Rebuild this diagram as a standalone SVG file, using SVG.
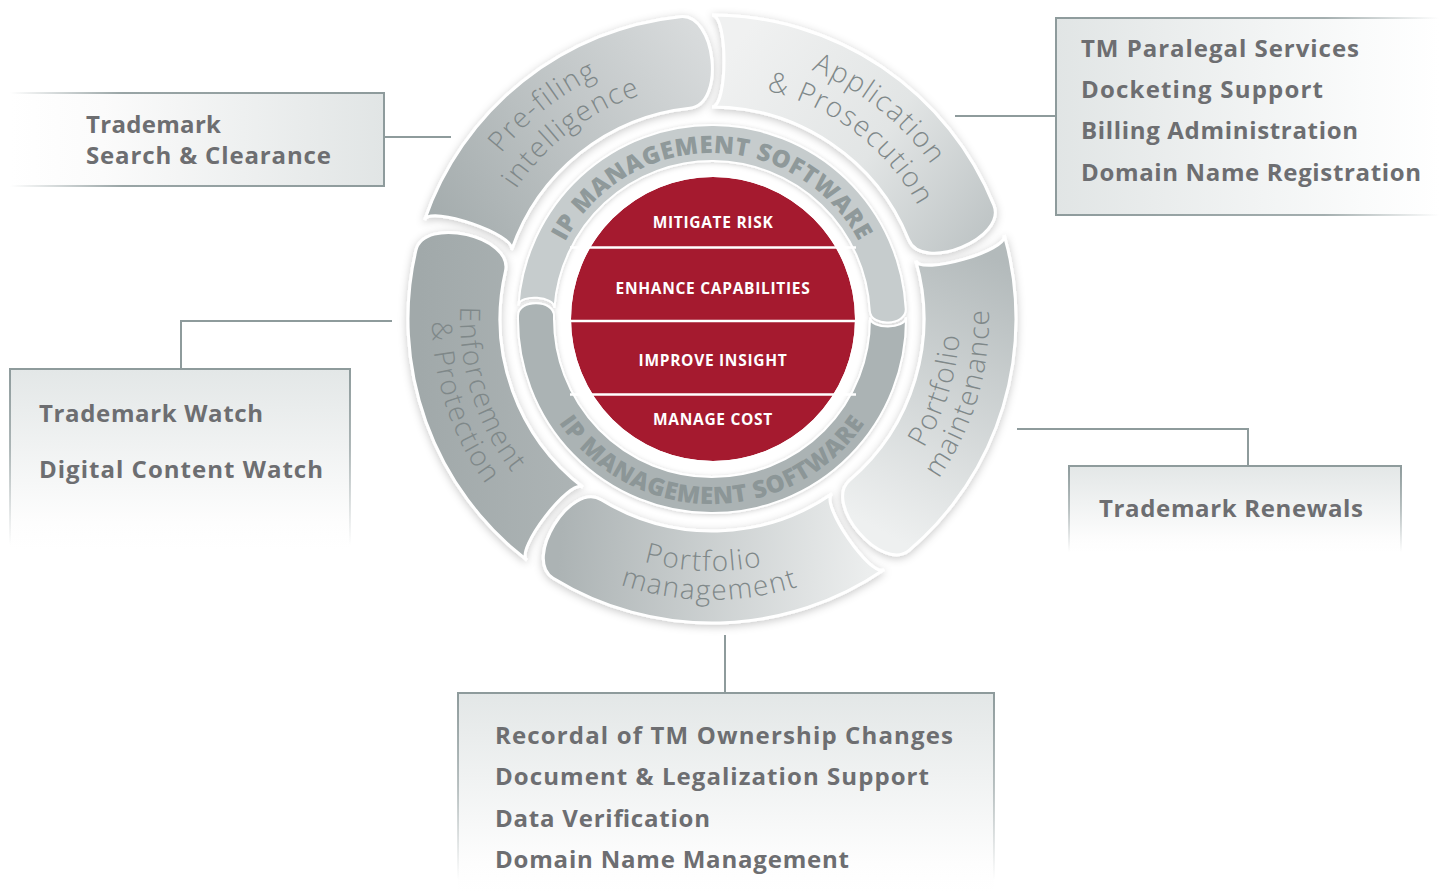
<svg xmlns="http://www.w3.org/2000/svg" width="1439" height="893" viewBox="0 0 1439 893">
<defs>
<style>
.seg{stroke:#fff;stroke-width:3;filter:url(#sh)}
.segt{font-family:"Open Sans","Liberation Sans",sans-serif;font-weight:300;font-size:28px;fill:#7f8889;letter-spacing:1.5px}
.ring{stroke:#fff;stroke-width:2}
.ringt{font-family:"Open Sans","Liberation Sans",sans-serif;font-weight:800;font-size:24px;letter-spacing:0.6px;fill:#8f999a}
.core{font-family:"Open Sans","Liberation Sans",sans-serif;font-weight:700;font-size:15.5px;fill:#fff;text-anchor:middle;letter-spacing:0.7px}
.box{font-family:"Open Sans","Liberation Sans",sans-serif;font-weight:700;font-size:24px;fill:#6d6e71}
.conn{fill:none;stroke:#8e9b9c;stroke-width:2}
.bd{fill:none;stroke-width:2}
</style>
<filter id="sh" x="-20%" y="-20%" width="140%" height="140%">
<feDropShadow dx="0" dy="2" stdDeviation="4" flood-color="#000" flood-opacity="0.22"/>
</filter>
<filter id="sh2" x="-10%" y="-10%" width="120%" height="120%">
<feDropShadow dx="0" dy="1" stdDeviation="2.5" flood-color="#000" flood-opacity="0.18"/>
</filter>
<linearGradient id="g1" gradientUnits="userSpaceOnUse" x1="440" y1="240" x2="710" y2="50"><stop offset="0" stop-color="#a3abac"/><stop offset="1" stop-color="#d8dbdc"/></linearGradient>
<linearGradient id="g2" gradientUnits="userSpaceOnUse" x1="740" y1="40" x2="990" y2="225"><stop offset="0" stop-color="#f0f1f1"/><stop offset="0.55" stop-color="#e2e5e5"/><stop offset="1" stop-color="#bfc5c6"/></linearGradient>
<linearGradient id="g3" gradientUnits="userSpaceOnUse" x1="1000" y1="260" x2="860" y2="520"><stop offset="0" stop-color="#b3babb"/><stop offset="1" stop-color="#eef0f0"/></linearGradient>
<linearGradient id="g4" gradientUnits="userSpaceOnUse" x1="870" y1="560" x2="560" y2="540"><stop offset="0" stop-color="#eceeee"/><stop offset="1" stop-color="#acb3b4"/></linearGradient>
<linearGradient id="g5" gradientUnits="userSpaceOnUse" x1="420" y1="400" x2="580" y2="400"><stop offset="0" stop-color="#a1a9aa"/><stop offset="1" stop-color="#adb4b5"/></linearGradient>
<linearGradient id="fB1" gradientUnits="userSpaceOnUse" x1="10" y1="0" x2="384" y2="0"><stop offset="0" stop-color="#fff"/><stop offset="0.25" stop-color="#fbfbfb"/><stop offset="1" stop-color="#e1e5e5"/></linearGradient>
<linearGradient id="sB1" gradientUnits="userSpaceOnUse" x1="10" y1="0" x2="384" y2="0"><stop offset="0" stop-color="#8e9b9c" stop-opacity="0"/><stop offset="0.3" stop-color="#8e9b9c" stop-opacity="0.9"/><stop offset="1" stop-color="#8e9b9c"/></linearGradient>
<linearGradient id="fB2" gradientUnits="userSpaceOnUse" x1="1056" y1="0" x2="1439" y2="0"><stop offset="0" stop-color="#e1e5e5"/><stop offset="0.8" stop-color="#fafbfb"/><stop offset="1" stop-color="#fff"/></linearGradient>
<linearGradient id="sB2" gradientUnits="userSpaceOnUse" x1="1056" y1="0" x2="1439" y2="0"><stop offset="0" stop-color="#8e9b9c"/><stop offset="0.7" stop-color="#8e9b9c" stop-opacity="0.8"/><stop offset="1" stop-color="#8e9b9c" stop-opacity="0"/></linearGradient>
<linearGradient id="fV" gradientUnits="objectBoundingBox" x1="0" y1="0" x2="0" y2="1"><stop offset="0" stop-color="#e3e7e7"/><stop offset="0.85" stop-color="#fdfdfd"/><stop offset="1" stop-color="#fff"/></linearGradient>
<linearGradient id="sB3" gradientUnits="userSpaceOnUse" x1="0" y1="369" x2="0" y2="545"><stop offset="0" stop-color="#8e9b9c"/><stop offset="0.45" stop-color="#8e9b9c" stop-opacity="0.7"/><stop offset="1" stop-color="#8e9b9c" stop-opacity="0"/></linearGradient>
<linearGradient id="sB4" gradientUnits="userSpaceOnUse" x1="0" y1="466" x2="0" y2="552"><stop offset="0" stop-color="#8e9b9c"/><stop offset="0.5" stop-color="#8e9b9c" stop-opacity="0.6"/><stop offset="1" stop-color="#8e9b9c" stop-opacity="0"/></linearGradient>
<linearGradient id="sB5" gradientUnits="userSpaceOnUse" x1="0" y1="693" x2="0" y2="880"><stop offset="0" stop-color="#8e9b9c"/><stop offset="0.5" stop-color="#8e9b9c" stop-opacity="0.6"/><stop offset="1" stop-color="#8e9b9c" stop-opacity="0"/></linearGradient>
<path id="tp1a" d="M446.94,358.61 A268,268 0 0 1 810.22,69.65"/>
<path id="tp1b" d="M478.75,347.64 A235,235 0 0 1 803.82,102.68"/>
<path id="tp2a" d="M613.78,69.65 A268,268 0 0 1 977.06,358.61"/>
<path id="tp2b" d="M622.07,101.89 A235,235 0 0 1 944.99,349.67"/>
<path id="tp3a" d="M765.68,561.12 A248,248 0 0 0 894.85,151.45"/>
<path id="tp3b" d="M776.67,588.35 A277,277 0 0 0 912.93,128.33"/>
<path id="tp4a" d="M489.50,437.31 A252,252 0 0 0 925.71,452.54"/>
<path id="tp4b" d="M467.43,457.37 A281,281 0 0 0 954.12,461.62"/>
<path id="tp5a" d="M526.21,148.75 A252,252 0 0 0 657.46,565.03"/>
<path id="tp5b" d="M502.29,133.47 A280,280 0 0 0 656.18,593.38"/>
<path id="rtTop" d="M546.63,304.53 A166,166 0 0 1 877.37,304.53"/>
<path id="rtBot" d="M527.70,335.12 A185,185 0 0 0 896.30,335.12"/>
</defs>

<g id="box-search">
<rect x="10" y="93" width="374" height="93" fill="url(#fB1)"/>
<path class="bd" d="M10,93 H384 V186 H10" stroke="url(#sB1)"/>
<text class="box" x="86" y="133" textLength="135">Trademark</text>
<text class="box" x="86" y="164" textLength="245">Search &amp; Clearance</text>
</g>

<g id="box-paralegal">
<rect x="1056" y="18" width="383" height="197" fill="url(#fB2)"/>
<path class="bd" d="M1439,18 H1056 V215 H1439" stroke="url(#sB2)"/>
<text class="box" x="1081" y="57" textLength="278">TM Paralegal Services</text>
<text class="box" x="1081" y="98" textLength="242">Docketing Support</text>
<text class="box" x="1081" y="139" textLength="277">Billing Administration</text>
<text class="box" x="1081" y="181" textLength="340">Domain Name Registration</text>
</g>

<g id="box-watch">
<rect x="10" y="369" width="340" height="180" fill="url(#fV)"/>
<path class="bd" d="M10,548 V369 H350 V548" stroke="url(#sB3)"/>
<text class="box" x="39" y="422" textLength="224">Trademark Watch</text>
<text class="box" x="39" y="478" textLength="284">Digital Content Watch</text>
</g>

<g id="box-renewals">
<rect x="1069" y="466" width="332" height="86" fill="url(#fV)"/>
<path class="bd" d="M1069,552 V466 H1401 V552" stroke="url(#sB4)"/>
<text class="box" x="1099" y="517" textLength="264">Trademark Renewals</text>
</g>

<g id="box-management">
<rect x="458" y="693" width="536" height="200" fill="url(#fV)"/>
<path class="bd" d="M458,880 V693 H994 V880" stroke="url(#sB5)"/>
<text class="box" x="495" y="744" textLength="458">Recordal of TM Ownership Changes</text>
<text class="box" x="495" y="785" textLength="434">Document &amp; Legalization Support</text>
<text class="box" x="495" y="827" textLength="215">Data Verification</text>
<text class="box" x="495" y="868" textLength="354">Domain Name Management</text>
</g>

<g id="connectors">
<path class="conn" d="M384,137 H451"/>
<path class="conn" d="M955,116 H1056"/>
<path class="conn" d="M392,321 H181 V369"/>
<path class="conn" d="M1017,429 H1248 V466"/>
<path class="conn" d="M725,635 V693"/>
</g>

<g id="seg-prefiling">
<path class="seg" fill="url(#g1)" d="M424.56,220.03 A304,304 0 0 1 680.22,16.67 C716.02,12.91 725.64,104.40 689.84,108.16 A212,212 0 0 0 511.55,249.98 C516.76,234.85 429.77,204.90 424.56,220.03 Z"/>
<text class="segt"><textPath href="#tp1a" startOffset="50%" text-anchor="middle">Pre-filing</textPath></text>
<text class="segt"><textPath href="#tp1b" startOffset="50%" text-anchor="middle">intelligence</textPath></text>
</g>

<g id="seg-application">
<path class="seg" fill="url(#g2)" d="M712,15 A304,304 0 0 1 993.86,205.12 C1007.35,238.50 922.05,272.96 908.56,239.58 A212,212 0 0 0 712,107 C728,107 728,15 712,15 Z"/>
<text class="segt"><textPath href="#tp2a" startOffset="50%" text-anchor="middle">Application</textPath></text>
<text class="segt"><textPath href="#tp2b" startOffset="50%" text-anchor="middle">&amp; Prosecution</textPath></text>
</g>

<g id="seg-maintenance">
<path class="seg" fill="url(#g3)" d="M1004.22,235.21 A304,304 0 0 1 909.43,550.16 C882.06,573.54 822.31,503.59 849.68,480.21 A212,212 0 0 0 915.79,260.56 C920.20,275.94 1008.63,250.59 1004.22,235.21 Z"/>
<text class="segt"><textPath href="#tp3a" startOffset="50%" text-anchor="middle">Portfolio</textPath></text>
<text class="segt"><textPath href="#tp3b" startOffset="50%" text-anchor="middle">maintenance</textPath></text>
</g>

<g id="seg-management">
<path class="seg" fill="url(#g4)" d="M884.19,569.54 A304,304 0 0 1 553.16,578.20 C522.46,559.39 570.53,480.95 601.23,499.76 A212,212 0 0 0 832.08,493.72 C818.89,502.78 871.00,578.60 884.19,569.54 Z"/>
<text class="segt"><textPath href="#tp4a" startOffset="50%" text-anchor="middle">Portfolio</textPath></text>
<text class="segt"><textPath href="#tp4b" startOffset="50%" text-anchor="middle">management</textPath></text>
</g>

<g id="seg-enforcement">
<path class="seg" fill="url(#g5)" d="M526.94,560.18 A304,304 0 0 1 415.79,250.62 C423.89,215.54 513.53,236.23 505.43,271.31 A212,212 0 0 0 582.94,487.19 C570.25,477.45 514.25,550.44 526.94,560.18 Z"/>
<text class="segt"><textPath href="#tp5a" startOffset="50%" text-anchor="middle">Enforcement</textPath></text>
<text class="segt"><textPath href="#tp5b" startOffset="50%" text-anchor="middle">&amp; Protection</textPath></text>
</g>

<g id="ring-software" filter="url(#sh2)">
<path class="ring" fill="#c6cccd" d="M518.47,305.47 A194,194 0 0 1 905.73,308.85 C906.62,325.83 870.67,327.71 869.78,310.73 A158,158 0 0 0 554.39,307.98 C555.23,296.01 519.31,293.50 518.47,305.47 Z"/>
<path class="ring" fill="#abb3b4" d="M905.99,317.31 A194,194 0 1 1 518.03,315.61 C518.33,298.61 554.32,299.24 554.02,316.24 A158,158 0 1 0 869.99,317.62 C870.09,329.62 906.09,329.31 905.99,317.31 Z"/>
</g>
<g id="ring-labels">
<text class="ringt"><textPath href="#rtTop" startOffset="50%" text-anchor="middle">IP MANAGEMENT SOFTWARE</textPath></text>
<text class="ringt" style="fill:#8c9697"><textPath href="#rtBot" startOffset="50%" text-anchor="middle">IP MANAGEMENT SOFTWARE</textPath></text>
</g>

<g id="core">
<circle cx="713" cy="319" r="142" fill="#a51a2f"/>
<path d="M570,247.5 H856 M570,321 H856 M570,394.5 H856" stroke="#fff" stroke-width="2.5"/>
<circle cx="713" cy="319" r="143.5" fill="none" stroke="#fff" stroke-width="3"/>
<text class="core" x="713" y="228">MITIGATE RISK</text>
<text class="core" x="713" y="293.5">ENHANCE CAPABILITIES</text>
<text class="core" x="713" y="365.5">IMPROVE INSIGHT</text>
<text class="core" x="713" y="424.5">MANAGE COST</text>
</g>
</svg>
